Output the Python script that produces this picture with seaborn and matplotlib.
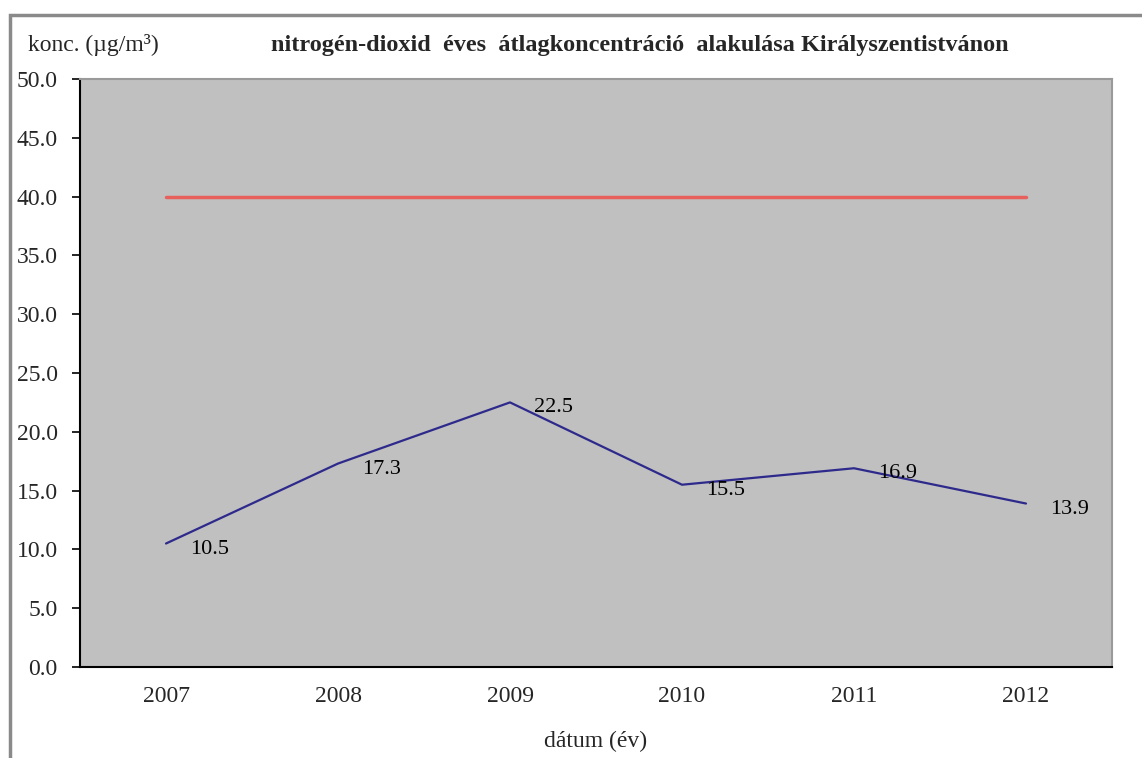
import matplotlib
matplotlib.use("Agg")
import matplotlib.pyplot as plt
import seaborn as sns
import pandas as pd
from matplotlib.patches import Rectangle

# data
years = ["2007", "2008", "2009", "2010", "2011", "2012"]
no2 = [10.5, 17.3, 22.5, 15.5, 16.9, 13.9]
limit = [40.0, 40.0, 40.0, 40.0, 40.0, 40.0]

df = pd.DataFrame({"year": years, "no2": no2, "limit": limit})

sns.set_style("white")
plt.rcParams["font.family"] = ["Liberation Serif", "DejaVu Serif"]

fig = plt.figure(figsize=(11.42, 7.58), dpi=100)
ax = fig.add_axes([80 / 1142, 1 - 667 / 758, 1032 / 1142, 588 / 758])
ax.set_facecolor("#C0C0C0")

sns.lineplot(data=df, x="year", y="limit", color="#E8605C", linewidth=2.5, ax=ax)
sns.lineplot(data=df, x="year", y="no2", color="#2E2A8C", linewidth=1.6, ax=ax)

for i, v in enumerate(no2):
    ax.annotate(f"{v:.1f}", xy=(i, v), xytext=(17, -4), textcoords="offset points",
                ha="left", va="center", fontsize=16, color="black")

ax.set_xlim(-0.5, 5.5)
ax.set_ylim(0, 50)
ax.set_yticks([i * 5 for i in range(11)])
ax.set_yticklabels([f"{i * 5:.1f}" for i in range(11)], fontsize=17)
ax.set_xticks(range(len(years)))
ax.set_xticklabels(years, fontsize=17)
ax.set_xticks([i - 0.5 for i in range(len(years) + 1)], minor=True)
ax.tick_params(axis="x", which="major", length=0, pad=14)
ax.tick_params(axis="x", which="minor", length=6, width=1.2, color="black", direction="out")
ax.tick_params(axis="y", length=6, width=1.2, color="black", direction="out", left=True, pad=10)

ax.set_xlabel("dátum (év)", fontsize=17, labelpad=17)
ax.set_ylabel("")

for side in ["left", "bottom"]:
    ax.spines[side].set_color("black")
    ax.spines[side].set_linewidth(1.5)
for side in ["top", "right"]:
    ax.spines[side].set_color("#9A9A9A")
    ax.spines[side].set_linewidth(1.5)

fig.text(28 / 1142, 1 - 45 / 758, "konc. (µg/m³)", fontsize=17, ha="left", va="center")
fig.text(640 / 1142, 1 - 45 / 758,
         "nitrogén-dioxid  éves  átlagkoncentráció  alakulása Királyszentistvánon",
         fontsize=17.5, fontweight="bold", ha="center", va="center")

# outer chart border
fig.patches.append(Rectangle((10 / 1142, -0.1), 1.2, 1 - 15 / 758 + 0.1,
                             transform=fig.transFigure, fill=False,
                             edgecolor="#8A8A8A", linewidth=2.5))

fig.savefig("out.png", dpi=100)
